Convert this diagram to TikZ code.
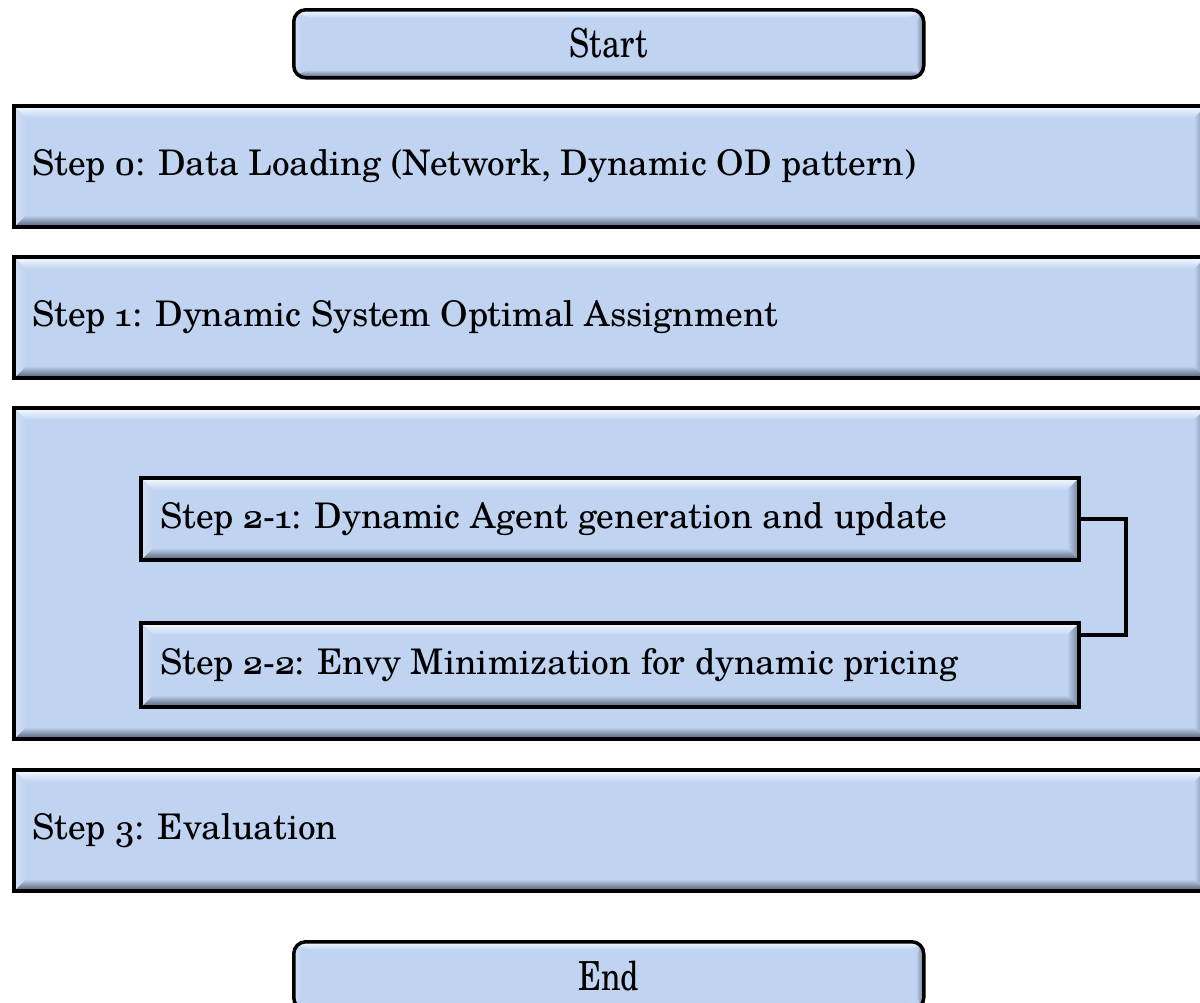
\documentclass[tikz,border=0pt]{standalone}
\usepackage{fontspec}
\usetikzlibrary{calc}

\newfontfamily\stepfont{texgyreschola-regular.otf}[Numbers=OldStyle]

\definecolor{boxblue}{RGB}{192,212,242}
\definecolor{bvtop}{RGB}{248,252,255}
\definecolor{bvbot}{RGB}{80,90,108}
\definecolor{bvleft}{RGB}{210,224,244}
\definecolor{bvright}{RGB}{112,126,150}

\tikzset{
  % box with a bevelled (raised) edge on all four sides
  bevel/.style={rectangle, draw=black, line width=4pt, fill=boxblue,
    inner sep=0pt, anchor=north west,
    path picture={
      \coordinate (pNW) at (path picture bounding box.north west);
      \coordinate (pNE) at (path picture bounding box.north east);
      \coordinate (pSW) at (path picture bounding box.south west);
      \coordinate (pSE) at (path picture bounding box.south east);
      \shade[top color=bvtop, bottom color=boxblue]
        (pNW) -- (pNE) -- ([shift={(-#1,-#1)}]pNE) -- ([shift={(#1,-#1)}]pNW) -- cycle;
      \shade[top color=boxblue, bottom color=bvbot]
        (pSW) -- (pSE) -- ([shift={(-#1,#1)}]pSE) -- ([shift={(#1,#1)}]pSW) -- cycle;
      \shade[left color=bvleft, right color=boxblue]
        (pNW) -- ([shift={(#1,-#1)}]pNW) -- ([shift={(#1,#1)}]pSW) -- (pSW) -- cycle;
      \shade[left color=boxblue, right color=bvright]
        (pNE) -- ([shift={(-#1,-#1)}]pNE) -- ([shift={(-#1,#1)}]pSE) -- (pSE) -- cycle;
    }},
  bevel/.default=12pt,
  endpoint/.style={bevel=8pt, rounded corners=12pt, line width=3.5pt},
  steptext/.style={anchor=west, inner sep=0pt, text=black,
    font=\stepfont\fontsize{35.3}{44}\selectfont},
  endtext/.style={inner sep=0pt, text=black, font=\stepfont\fontsize{40}{46}\selectfont},
  conn/.style={draw=black, line width=3.2pt},
}

\begin{document}
\begin{tikzpicture}[x=1pt, y=-1pt]
  \useasboundingbox (0,0) rectangle (1200,1002);
  \clip (0,0) rectangle (1200,1002);

  % start terminal
  \node[endpoint, minimum width=630pt, minimum height=68pt] (start) at (292,8) {};
  \node[endtext] (starttxt) at ($(start.center)+(0,1pt)$) {\scalebox{0.8}[1]{Start}};

  % step 0
  \node[bevel, minimum width=1192pt, minimum height=121pt] (s0) at (12,104) {};
  \node[steptext] (s0txt) at ($(s0.west)+(20pt,0)$)
    {Step 0: Data Loading (Network, Dynamic OD pattern)};

  % step 1
  \node[bevel, minimum width=1192pt, minimum height=121pt] (s1) at (12,255) {};
  \node[steptext] (s1txt) at ($(s1.west)+(20pt,0)$)
    {Step 1: Dynamic System Optimal Assignment};

  % step 2 container with its two sub-steps
  \node[bevel, minimum width=1192pt, minimum height=331pt] (s2) at (12,406) {};
  \node[bevel, minimum width=938pt, minimum height=82pt] (s21) at (139,476) {};
  \node[steptext] (s21txt) at ($(s21.west)+(21pt,0)$)
    {Step 2-1: Dynamic Agent generation and update};
  \node[bevel, minimum width=938pt, minimum height=84pt] (s22) at (139,621) {};
  \node[steptext] (s22txt) at ($(s22.west)+(21pt,0)$)
    {Step 2-2: Envy Minimization for dynamic pricing};

  % loop between the sub-steps
  \coordinate (s22in) at ($(s22.north east)+(0,-14pt)$);
  \draw[conn] (s21.east) -- ++(45pt,0) |- (s22in);

  % step 3
  \node[bevel, minimum width=1192pt, minimum height=121pt] (s3) at (12,768) {};
  \node[steptext] (s3txt) at ($(s3.west)+(20pt,0)$) {Step 3: Evaluation};

  % end terminal
  \node[endpoint, minimum width=630pt, minimum height=68pt] (end) at (292,940) {};
  \node[endtext] (endtxt) at ($(end.center)+(0,0)$) {\scalebox{0.8}[1]{End}};
\end{tikzpicture}
\end{document}
